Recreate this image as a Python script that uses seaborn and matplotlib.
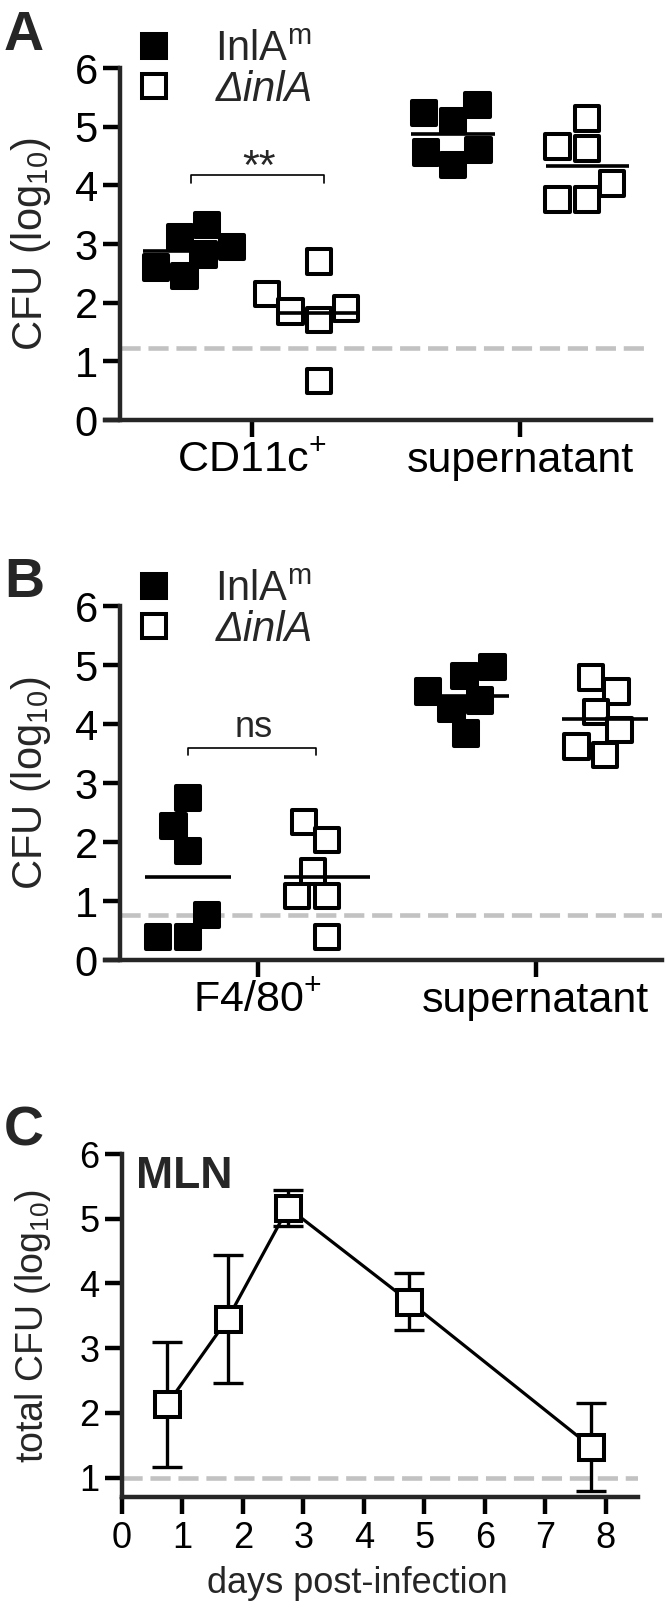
import numpy as np
import pandas as pd
import matplotlib
matplotlib.use("Agg")
import matplotlib.pyplot as plt
import seaborn as sns
from matplotlib.lines import Line2D

# ---------- data (CFU, log10) ----------
strains = ["InlAm", "ΔinlA"]
strain_labels = [r"InlA$^{\mathrm{m}}$", "ΔinlA"]

# panel A: CD11c+ cells / supernatant
a_cats = [r"CD11c$^{+}$", "supernatant"]
a_cd11c_inla = [3.32, 3.12, 2.95, 2.82, 2.60, 2.45]
a_cd11c_dinla = [2.70, 2.15, 1.90, 1.85, 1.70, 0.66]
a_sup_inla = [5.37, 5.23, 5.10, 4.60, 4.56, 4.35]
a_sup_dinla = [5.14, 4.66, 4.63, 4.03, 3.76, 3.76]
a_lod = 1.22
a_sig = "**"

# panel B: F4/80+ cells / supernatant
b_cats = [r"F4/80$^{+}$", "supernatant"]
b_f480_inla = [2.75, 2.27, 1.85, 0.76, 0.39, 0.39]
b_f480_dinla = [2.34, 2.03, 1.50, 1.09, 1.08, 0.39]
b_sup_inla = [4.97, 4.81, 4.55, 4.40, 4.26, 3.84]
b_sup_dinla = [4.79, 4.55, 4.20, 3.90, 3.62, 3.48]
b_lod = 0.77
b_sig = "ns"

# panel C: MLN time course
c_days = [0.75, 1.75, 2.75, 4.75, 7.75]
c_mean = [2.13, 3.45, 5.17, 3.72, 1.48]
c_sd = [0.97, 0.99, 0.28, 0.44, 0.68]
c_lod = 1.0

W, H = 666, 1610
LOD_COLOR = "#c2c2c2"
LOD_STYLE = (0, (4.4, 1.7))

sns.set_style("ticks")
plt.rcParams["font.family"] = ["Liberation Sans", "DejaVu Sans"]
plt.rcParams["mathtext.fontset"] = "custom"
plt.rcParams["mathtext.rm"] = "Liberation Sans"
plt.rcParams["mathtext.it"] = "Liberation Sans:italic"
plt.rcParams["mathtext.bf"] = "Liberation Sans:bold"

fig = plt.figure(figsize=(W / 100, H / 100), dpi=100)


def px_axes(x0, x1, ytop, ybot):
    return fig.add_axes([x0 / W, 1 - ybot / H, (x1 - x0) / W, (ybot - ytop) / H])


def style_axes(ax, fs):
    for s in ["top", "right"]:
        ax.spines[s].set_visible(False)
    for s in ["left", "bottom"]:
        ax.spines[s].set_linewidth(3.2)
    ax.tick_params(width=3.2, length=12, labelsize=fs, color="black", labelcolor="black")
    ax.tick_params(axis="y", pad=4)


def scatter_panel(ax, cats, groups, lod, sig, sig_fs, br, xlim, spine_x):
    names = [f"{c}|{s}" for c in cats for s in strains]
    rows = []
    for name, vals in zip(names, groups):
        for v in vals:
            rows.append({"group": name, "strain": name.split("|")[1], "cfu": v})
    df = pd.DataFrame(rows)

    sns.swarmplot(data=df, x="group", y="cfu", hue="strain", order=names,
                  hue_order=strains, palette={"InlAm": "black", "ΔinlA": "white"},
                  marker="s", size=17.5, edgecolor="black", linewidth=2.9,
                  legend=False, ax=ax, zorder=3, warn_thresh=1)
    # group means as horizontal lines
    sns.boxplot(data=df, x="group", y="cfu", order=names, width=0.62,
                showmeans=True, meanline=True, showbox=False, showcaps=False,
                showfliers=False, whiskerprops={"visible": False},
                medianprops={"visible": False},
                meanprops={"color": "black", "linestyle": "-", "linewidth": 2.6},
                ax=ax, zorder=4)

    ax.set_ylim(0, 6)
    ax.set_yticks(range(0, 7))
    ax.set_xlim(*xlim)
    ax.set_xticks([0.5, 2.5])
    ax.set_xticklabels(cats)
    ax.tick_params(axis="x", pad=3, labelsize=31)
    ax.set_xlabel("")
    ax.spines["left"].set_position(("data", spine_x))
    ax.hlines(lod, spine_x, xlim[1], colors=LOD_COLOR, linewidth=3.3,
              linestyles=LOD_STYLE, zorder=1)

    # significance bracket
    x0, x1, yb, yd, ytxt = br
    ax.plot([x0, x0, x1, x1], [yd, yb, yb, yd], color="black", lw=1.2)
    ax.text((x0 + x1) / 2 + 0.01, ytxt, sig, ha="center", va="baseline",
            fontsize=sig_fs)


def add_legend(ax, yc):
    handles = [Line2D([], [], ls="none", marker="s", markersize=17.5,
                      markerfacecolor=fc, markeredgecolor="black",
                      markeredgewidth=2.9) for fc in ["black", "white"]]
    leg = ax.legend(handles, strain_labels, loc="center left",
                    bbox_to_anchor=(130 / W, 1 - yc / H),
                    bbox_transform=fig.transFigure, frameon=False, fontsize=30,
                    handlelength=1.15, handletextpad=0.9, labelspacing=0.0,
                    borderpad=0, borderaxespad=0)
    leg.get_texts()[1].set_fontstyle("italic")


# ---------- panel A ----------
axA = px_axes(104.6, 651, 68, 420)
style_axes(axA, 30)
scatter_panel(axA, a_cats, [a_cd11c_inla, a_cd11c_dinla, a_sup_inla, a_sup_dinla],
              a_lod, a_sig, 31, (0.05, 1.04, 4.17, 4.04, 4.10), (-0.595, 3.476), -0.48)
axA.set_ylabel(r"CFU (log$_{10}$)", fontsize=30)
axA.yaxis.set_label_coords(-0.094, 0.5)
add_legend(axA, 70)

# ---------- panel B ----------
axB = px_axes(104.6, 662, 606, 960)
style_axes(axB, 30)
scatter_panel(axB, b_cats, [b_f480_inla, b_f480_dinla, b_sup_inla, b_sup_dinla],
              b_lod, b_sig, 26, (0.0, 0.92, 3.60, 3.48, 3.78), (-0.6, 3.41), -0.489)
axB.set_ylabel(r"CFU (log$_{10}$)", fontsize=30)
axB.yaxis.set_label_coords(-0.0926, 0.5)
add_legend(axB, 610)

# ---------- panel C ----------
axC = px_axes(121.7, 638, 1154, 1497)
style_axes(axC, 26)
axC.errorbar(c_days, c_mean, yerr=c_sd, fmt="none", ecolor="black",
             elinewidth=2.4, capsize=10.5, capthick=2.4, zorder=2)
sns.lineplot(x=c_days, y=c_mean, marker="s", markersize=18,
             markerfacecolor="white", markeredgecolor="black",
             markeredgewidth=2.9, color="black", linewidth=2.3, ax=axC, zorder=3)
axC.hlines(c_lod, 0, 8.53, colors=LOD_COLOR, linewidth=3.3,
           linestyles=LOD_STYLE, zorder=1)
axC.set_xlim(0, 8.53)
axC.set_ylim(0.7, 6)
axC.set_xticks(range(0, 9))
axC.set_yticks(range(1, 7))
axC.tick_params(axis="x", pad=5)
axC.set_xlabel("days post-infection", fontsize=26)
axC.xaxis.set_label_coords(0.456, -0.2)
axC.set_ylabel(r"total CFU (log$_{10}$)", fontsize=27)
axC.yaxis.set_label_coords(-0.133, 0.5)
axC.text(136 / W, 1 - 1188 / H, "MLN", transform=fig.transFigure,
         fontsize=32, fontweight="bold", va="baseline", ha="left")

# panel letters
for letter, base in [("A", 50), ("B", 597), ("C", 1146)]:
    fig.text(4 / W, 1 - base / H, letter, fontsize=40, fontweight="bold",
             va="baseline", ha="left")

fig.savefig("out.png", dpi=100)
